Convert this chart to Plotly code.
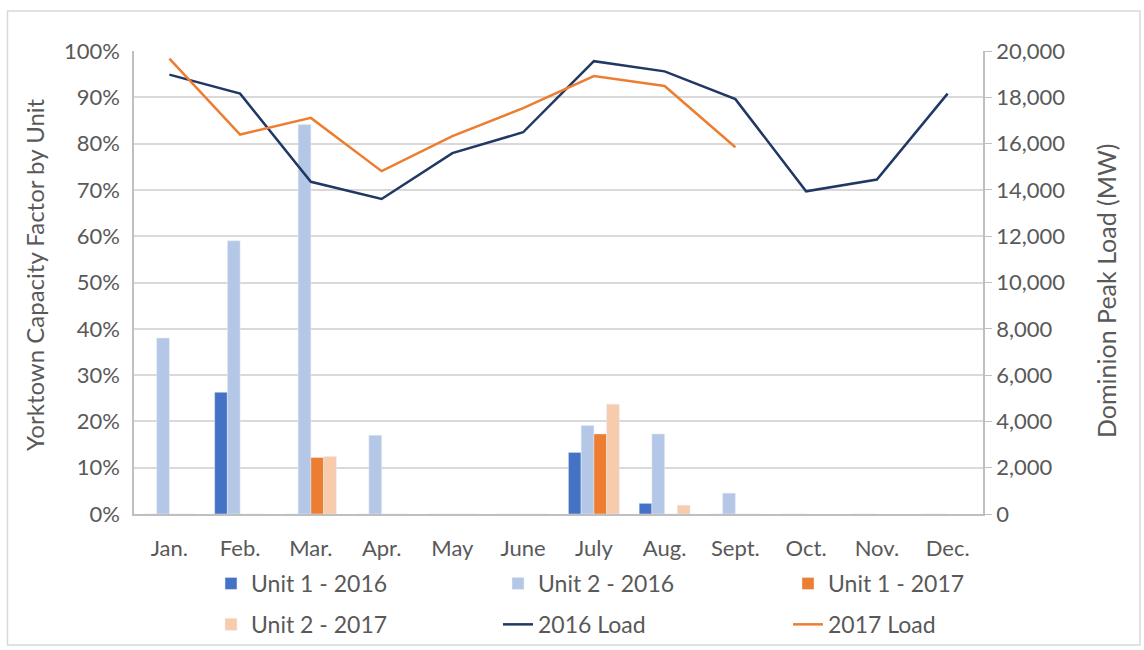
import plotly.graph_objects as go

months = ["Jan.", "Feb.", "Mar.", "Apr.", "May", "June", "July", "Aug.", "Sept.", "Oct.", "Nov.", "Dec."]

unit1_2016 = [0, 0.263, 0, 0, 0, 0, 0.133, 0.023, 0, 0, 0, 0]
unit2_2016 = [0.380, 0.590, 0.841, 0.170, 0, 0, 0.191, 0.173, 0.045, 0, 0, 0]
unit1_2017 = [0, 0, 0.122, 0, 0, 0, 0.173, 0, 0, None, None, None]
unit2_2017 = [0, 0, 0.124, 0, 0, 0, 0.237, 0.019, 0, None, None, None]

load_2016 = [18980, 18160, 14350, 13610, 15590, 16490, 19560, 19120, 17920, 13940, 14450, 18160]
load_2017 = [19670, 16390, 17110, 14810, 16320, 17530, 18920, 18490, 15840, None, None, None]

left_title = "Yorktown Capacity Factor by Unit"
right_title = "Dominion Peak Load (MW)"

FONT = "Lato"
TXT = "#595959"
FS = 22

fig = go.Figure()
fig.add_trace(go.Bar(x=months, y=unit1_2016, name="Unit 1 - 2016", marker_color="#4472C4",
                     legend="legend", legendgroup="a"))
fig.add_trace(go.Bar(x=months, y=unit2_2016, name="Unit 2 - 2016", marker_color="#B4C7E7",
                     legend="legend2", legendgroup="b"))
fig.add_trace(go.Bar(x=months, y=unit1_2017, name="Unit 1 - 2017", marker_color="#ED7D31",
                     legend="legend3", legendgroup="c"))
fig.add_trace(go.Bar(x=months, y=unit2_2017, name="Unit 2 - 2017", marker_color="#F8CBAD",
                     legend="legend", legendgroup="d"))
fig.add_trace(go.Scatter(x=months, y=load_2016, name="2016 Load", mode="lines", yaxis="y2",
                         line=dict(color="#203864", width=2.5), legend="legend2", legendgroup="e"))
fig.add_trace(go.Scatter(x=months, y=load_2017, name="2017 Load", mode="lines", yaxis="y2",
                         line=dict(color="#ED7D31", width=2.5), legend="legend3", legendgroup="f"))

L, R, T, B = 134, 161, 51, 136
W, H = 1144, 650
pw, ph = W - L - R, H - T - B

def px_x(p):
    return (p - L) / pw

def px_y(p):
    return (H - B - p) / ph

leg_common = dict(orientation="v", xref="container", yref="container", yanchor="top",
                  xanchor="left", font=dict(family=FONT, size=23, color=TXT),
                  traceorder="grouped", tracegroupgap=8, bgcolor="rgba(0,0,0,0)")
ly = 1 - 562 / H

fig.update_layout(
    width=W, height=H,
    margin=dict(l=L, r=R, t=T, b=B, autoexpand=False),
    paper_bgcolor="white", plot_bgcolor="white",
    font=dict(family=FONT, size=FS, color=TXT),
    barmode="group", bargap=0.28, bargroupgap=0,
    xaxis=dict(showline=True, linecolor="#bfbfbf", linewidth=1.5, showgrid=False,
               ticks="outside", ticklen=14, tickcolor="rgba(0,0,0,0)",
               tickfont=dict(family=FONT, size=FS, color=TXT)),
    yaxis=dict(range=[0, 1], dtick=0.1, tickformat=".0%", showline=True, linecolor="#bfbfbf",
               linewidth=1.5, gridcolor="#d9d9d9", gridwidth=1.5, zeroline=False,
               ticks="outside", ticklen=8, tickcolor="rgba(0,0,0,0)",
               tickfont=dict(family=FONT, size=FS, color=TXT)),
    yaxis2=dict(range=[0, 20000], dtick=2000, tickformat=",d", overlaying="y", side="right",
                showline=True, linecolor="#bfbfbf", linewidth=1.5, showgrid=False, zeroline=False,
                ticks="outside", ticklen=7, tickcolor="#bfbfbf",
                tickfont=dict(family=FONT, size=FS, color=TXT)),
    legend=dict(x=211 / W, y=ly, **leg_common),
    legend2=dict(x=498 / W, y=ly, **leg_common),
    legend3=dict(x=788 / W, y=ly, **leg_common),
    showlegend=True,
    annotations=[
        dict(text=left_title, textangle=-90, xref="paper", yref="paper",
             x=px_x(34), y=px_y(275), xanchor="center", yanchor="middle", showarrow=False,
             font=dict(family=FONT, size=24, color=TXT)),
        dict(text=right_title, textangle=-90, xref="paper", yref="paper",
             x=px_x(1106), y=px_y(291), xanchor="center", yanchor="middle", showarrow=False,
             font=dict(family=FONT, size=25, color=TXT)),
    ],
    shapes=[dict(type="rect", xref="paper", yref="paper",
                 x0=px_x(7.5), x1=px_x(1140), y0=px_y(645), y1=px_y(11),
                 line=dict(color="#d9d9d9", width=1.5), fillcolor="rgba(0,0,0,0)", layer="below")],
)

fig.write_html("out.html", config={"displayModeBar": False},
               post_script="document.body.style.margin='0';")
